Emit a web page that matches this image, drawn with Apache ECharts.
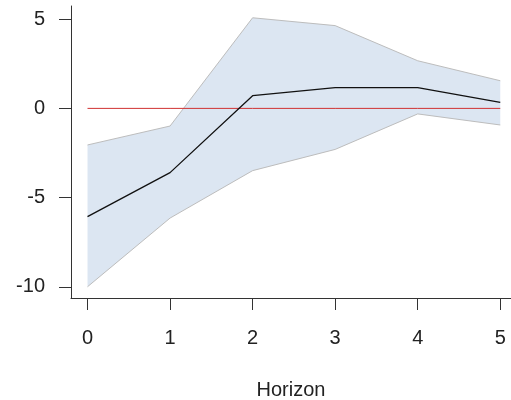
<!DOCTYPE html>
<html>
<head>
<meta charset="utf-8">
<script src="https://cdn.jsdelivr.net/npm/echarts@6/dist/echarts.min.js"></script>
<style>
  html, body { margin: 0; padding: 0; background: #ffffff; }
  #chart { width: 511px; height: 400px; }
</style>
</head>
<body>
<div id="chart"></div>
<script>
// Impulse response over the forecast horizon with its confidence band
const horizon = [0, 1, 2, 3, 4, 5];
const response = [-6.07, -3.6, 0.71, 1.16, 1.16, 0.34];
const upperBand = [-2.05, -0.99, 5.08, 4.64, 2.67, 1.55];
const lowerBand = [-10.0, -6.15, -3.49, -2.3, -0.31, -0.93];
const zeroLine = [0, 0, 0, 0, 0, 0];
const xTicks = [0, 1, 2, 3, 4, 5];
const yTicks = [-10, -5, 0, 5];

const pairs = (xs, ys) => xs.map((x, i) => [x, ys[i]]);
const bandRows = horizon.map((h, i) => [h, lowerBand[i], upperBand[i]]);

const textColor = '#222222';
const axisColor = '#333333';
const bandEdge = '#bdbdbd';
const fontFamily = '"Liberation Sans", Arial, sans-serif';

// The band is one closed polygon: along the upper bound, then back along the lower bound.
function renderBand(params, api) {
  if (params.dataIndex !== 0) return null;
  const top = [];
  const bottom = [];
  for (let i = 0; i < params.dataInsideLength; i++) {
    top.push(api.coord([api.value(0, i), api.value(2, i)]));
    bottom.push(api.coord([api.value(0, i), api.value(1, i)]));
  }
  return {
    type: 'polygon',
    shape: { points: top.concat(bottom.reverse()) },
    style: { fill: '#dce6f2', stroke: null },
    silent: true
  };
}

const chart = echarts.init(document.getElementById('chart'), null, { renderer: 'canvas' });

chart.setOption({
  animation: false,
  backgroundColor: '#ffffff',
  grid: { left: 71, right: 0, top: 6, bottom: 102, containLabel: false, outerBoundsMode: 'none' },
  xAxis: {
    type: 'value',
    min: -0.2,
    max: 5.13,
    name: 'Horizon',
    nameLocation: 'middle',
    nameGap: 82,
    nameTextStyle: { color: textColor, fontSize: 20, fontFamily: fontFamily },
    splitLine: { show: false },
    axisLine: { show: true, onZero: false, lineStyle: { color: axisColor, width: 1 } },
    axisTick: { show: true, customValues: xTicks, length: 12, lineStyle: { color: axisColor, width: 1 } },
    axisLabel: { customValues: xTicks, margin: 30, color: textColor, fontSize: 20, fontFamily: fontFamily }
  },
  yAxis: {
    type: 'value',
    min: -10.63,
    max: 5.74,
    splitLine: { show: false },
    axisLine: { show: true, onZero: false, lineStyle: { color: axisColor, width: 1 } },
    axisTick: { show: true, customValues: yTicks, length: 12, lineStyle: { color: axisColor, width: 1 } },
    axisLabel: { customValues: yTicks, margin: 26, color: textColor, fontSize: 20, fontFamily: fontFamily }
  },
  series: [
    {
      name: 'band',
      type: 'custom',
      data: bandRows,
      encode: { x: 0, y: [1, 2] },
      renderItem: renderBand,
      clip: true,
      z: 1
    },
    {
      name: 'upper',
      type: 'line',
      data: pairs(horizon, upperBand),
      symbol: 'none',
      silent: true,
      lineStyle: { color: bandEdge, width: 1 },
      z: 2
    },
    {
      name: 'lower',
      type: 'line',
      data: pairs(horizon, lowerBand),
      symbol: 'none',
      silent: true,
      lineStyle: { color: bandEdge, width: 1 },
      z: 2
    },
    {
      name: 'zero',
      type: 'line',
      data: pairs(horizon, zeroLine),
      symbol: 'none',
      silent: true,
      lineStyle: { color: '#d03030', width: 1 },
      z: 3
    },
    {
      name: 'response',
      type: 'line',
      data: pairs(horizon, response),
      symbol: 'none',
      silent: true,
      lineStyle: { color: '#111111', width: 1.3 },
      z: 4
    }
  ]
});
</script>
</body>
</html>
